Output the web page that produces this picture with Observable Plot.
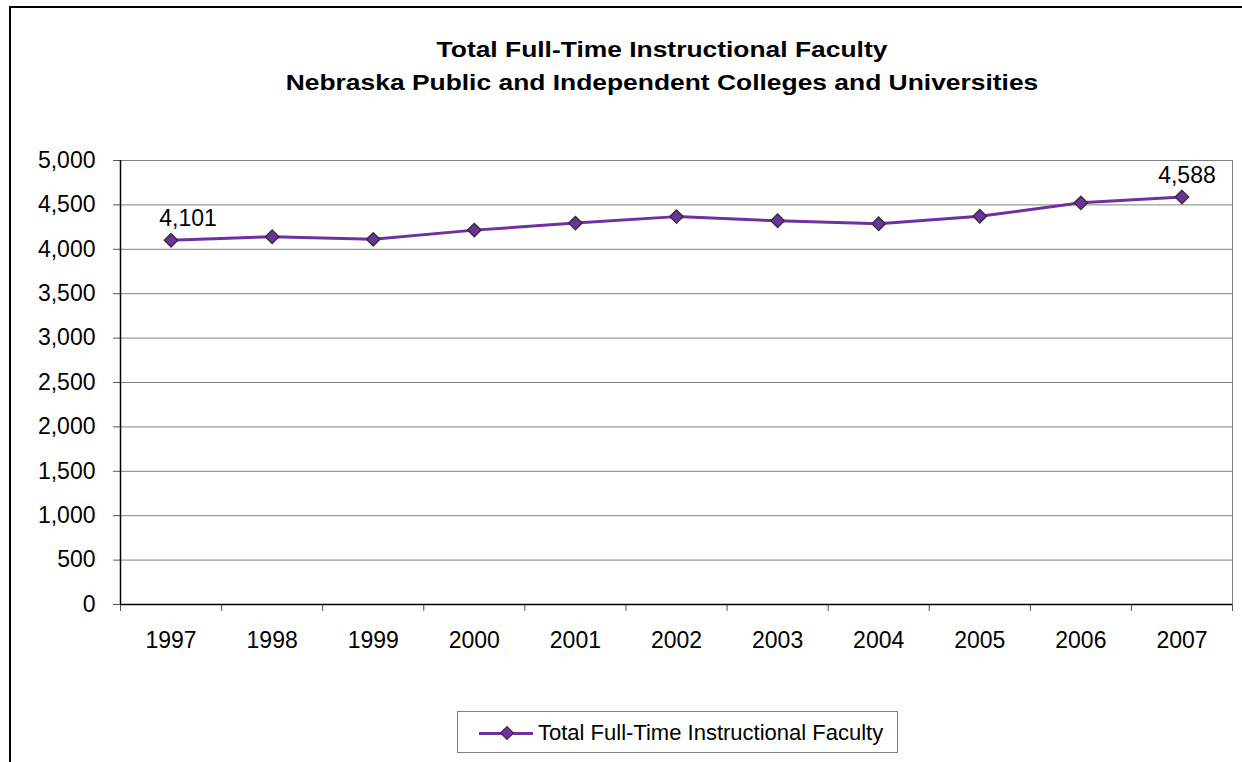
<!DOCTYPE html>
<html>
<head>
<meta charset="utf-8">
<script src="https://cdn.jsdelivr.net/npm/d3@7"></script>
<script src="https://cdn.jsdelivr.net/npm/@observablehq/plot@0.6"></script>
<style>
  html, body { margin: 0; padding: 0; background: #fff; }
  body { font-family: "Liberation Sans", Arial, sans-serif; color: #000; }
  #wrap { position: relative; width: 1242px; height: 762px; overflow: hidden; }
  #frame { position: absolute; left: 9px; top: 6px; width: 1400px; height: 900px;
           border-left: 2px solid #000; border-top: 2px solid #000; }
  #title { position: absolute; left: 0; width: 1324px; top: 33px; text-align: center;
           font-weight: bold; font-size: 22px; line-height: 33px; transform: scaleX(1.2); }
  #chart { position: absolute; left: 0; top: 0; }
  #legend { position: absolute; left: 457px; top: 711px; width: 441px; height: 42px;
            border: 1px solid #808080; background: #fff; box-sizing: border-box; }
  #legend .ln { position: absolute; left: 21px; top: 20px; width: 54px; height: 3px; background: #7030A0; }
  #legend .mk { position: absolute; left: 44px; top: 16px; width: 8px; height: 8px; background: #7030A0;
                border: 1.5px solid #333; transform: rotate(45deg); }
  #legend .tx { position: absolute; left: 80px; top: 8px; font-size: 22px; line-height: 26px; white-space: nowrap; }
</style>
</head>
<body>
<div id="wrap">
  <div id="frame"></div>
  <div id="title">Total Full-Time Instructional Faculty<br>Nebraska Public and Independent Colleges and Universities</div>
  <div id="chart"></div>
  <div id="legend"><div class="ln"></div><div class="mk"></div><div class="tx">Total Full-Time Instructional Faculty</div></div>
</div>
<script>
const years = ["1997","1998","1999","2000","2001","2002","2003","2004","2005","2006","2007"];
const faculty = [4101, 4142, 4112, 4216, 4295, 4368, 4321, 4287, 4373, 4523, 4588];
const yTicks = [0, 500, 1000, 1500, 2000, 2500, 3000, 3500, 4000, 4500, 5000];

const data = years.map((year, i) => ({i, year, value: faculty[i]}));
const idx = years.map((_, i) => i);
const boundaries = [...idx.map(i => i - 0.5), years.length - 0.5];
const purple = "#7030A0";
const fmt = d3.format(",");
const first = data.filter(d => d.year === "1997");
const last = data.filter(d => d.year === "2007");

const chart = Plot.plot({
  width: 1242,
  height: 762,
  marginLeft: 120,
  marginRight: 10,
  marginTop: 160,
  marginBottom: 158,
  style: {fontFamily: "'Liberation Sans', Arial, sans-serif", fontSize: "23px", color: "#000", background: "transparent"},
  x: {type: "linear", domain: [-0.5, years.length - 0.5]},
  y: {type: "linear", domain: [0, 5000]},
  marks: [
    Plot.gridY(yTicks.filter(d => d > 0), {stroke: "#808080", strokeOpacity: 1, strokeWidth: 1}),
    Plot.ruleX([years.length - 0.5], {stroke: "#808080", strokeWidth: 1}),
    Plot.axisY({ticks: yTicks, tickFormat: fmt, tickSize: 7, tickPadding: 18, stroke: "#555", fontSize: 23, label: null}),
    Plot.axisX({ticks: boundaries, tickFormat: () => "", tickSize: 7, stroke: "#555", label: null}),
    Plot.axisX({ticks: idx, tickFormat: i => years[i], tickSize: 0, tickPadding: 27, fontSize: 23, label: null}),
    Plot.ruleX([-0.5], {stroke: "#000", strokeWidth: 1.5}),
    Plot.ruleY([0], {stroke: "#000", strokeWidth: 1.5}),
    Plot.line(data, {x: "i", y: "value", stroke: purple, strokeWidth: 3}),
    Plot.dot(data, {x: "i", y: "value", symbol: "diamond2", r: 6, fill: purple, stroke: "#333", strokeWidth: 1.5}),
    Plot.text(first, {x: "i", y: "value", text: d => fmt(d.value), fontSize: 23, fill: "#000",
      lineAnchor: "bottom", dy: -14, dx: 17}),
    Plot.text(last, {x: "i", y: "value", text: d => fmt(d.value), fontSize: 23, fill: "#000",
      lineAnchor: "bottom", dy: -14, dx: 5})
  ]
});
document.getElementById("chart").appendChild(chart);
</script>
</body>
</html>
